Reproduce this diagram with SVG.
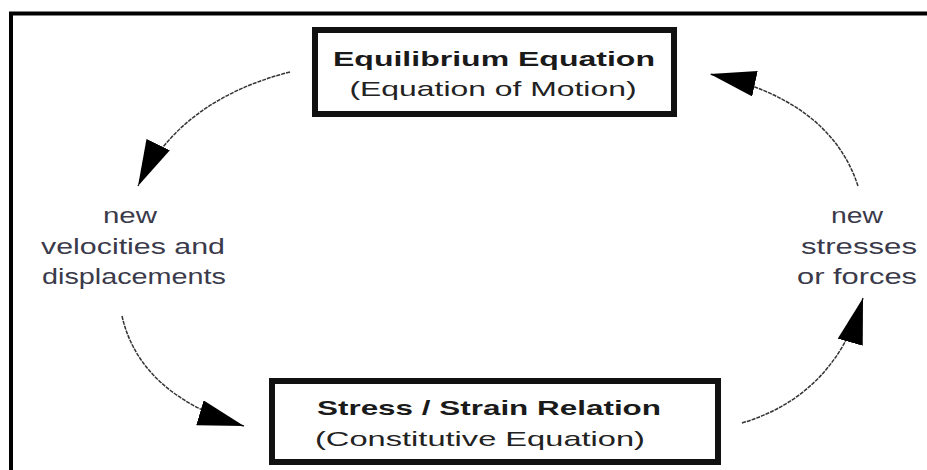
<svg xmlns="http://www.w3.org/2000/svg" width="927" height="470" viewBox="0 0 927 470">
<defs>
<style>
.frame{fill:none;stroke:#000;stroke-width:4}
.box{fill:#fff;stroke:#111;stroke-width:6}
.title{font-family:"Liberation Sans",Arial,sans-serif;font-weight:bold;font-size:21px;fill:#1a1a1a;text-anchor:middle}
.sub{font-family:"Liberation Sans",Arial,sans-serif;font-size:21px;fill:#222;text-anchor:middle}
.lbl{font-family:"Liberation Sans",Arial,sans-serif;font-size:22px;fill:#3a3a4a;text-anchor:middle}
.conn{fill:none;stroke:#333;stroke-width:1.5;stroke-dasharray:4 1}
</style>
<marker id="ah" viewBox="0 0 46 26" refX="46" refY="13" markerWidth="46" markerHeight="26" markerUnits="userSpaceOnUse" orient="auto">
<path d="M0,0 L46,13 L0,26 z" fill="#000"/>
</marker>
</defs>
<rect width="927" height="470" fill="#fff"/>
<rect class="frame" x="11" y="13.5" width="930" height="480"/>
<g id="connectors">
<path class="conn" d="M290 72 Q180 100 138 186" marker-end="url(#ah)"/>
<path class="conn" d="M858 186 Q830 100 710 74" marker-end="url(#ah)"/>
<path class="conn" d="M122 316 Q140 395 244 426" marker-end="url(#ah)"/>
<path class="conn" d="M742 423 Q835 395 863 298" marker-end="url(#ah)"/>
</g>
<g id="equilibrium">
<rect class="box" x="315" y="30" width="359" height="84"/>
<text class="title" x="494" y="66" textLength="322" lengthAdjust="spacingAndGlyphs">Equilibrium Equation</text>
<text class="sub" x="493" y="96" textLength="287" lengthAdjust="spacingAndGlyphs">(Equation of Motion)</text>
</g>
<g id="stress-strain">
<rect class="box" x="272" y="381" width="446" height="81"/>
<text class="title" x="489" y="415" textLength="344" lengthAdjust="spacingAndGlyphs">Stress / Strain Relation</text>
<text class="sub" x="480" y="446" textLength="330" lengthAdjust="spacingAndGlyphs">(Constitutive Equation)</text>
</g>
<g id="left-label">
<text class="lbl" x="130" y="223" textLength="54" lengthAdjust="spacingAndGlyphs">new</text>
<text class="lbl" x="133" y="254" textLength="184" lengthAdjust="spacingAndGlyphs">velocities and</text>
<text class="lbl" x="134" y="284" textLength="184" lengthAdjust="spacingAndGlyphs">displacements</text>
</g>
<g id="right-label">
<text class="lbl" x="857" y="223" textLength="52" lengthAdjust="spacingAndGlyphs">new</text>
<text class="lbl" x="859" y="254" textLength="116" lengthAdjust="spacingAndGlyphs">stresses</text>
<text class="lbl" x="857" y="284" textLength="120" lengthAdjust="spacingAndGlyphs">or forces</text>
</g>
</svg>
